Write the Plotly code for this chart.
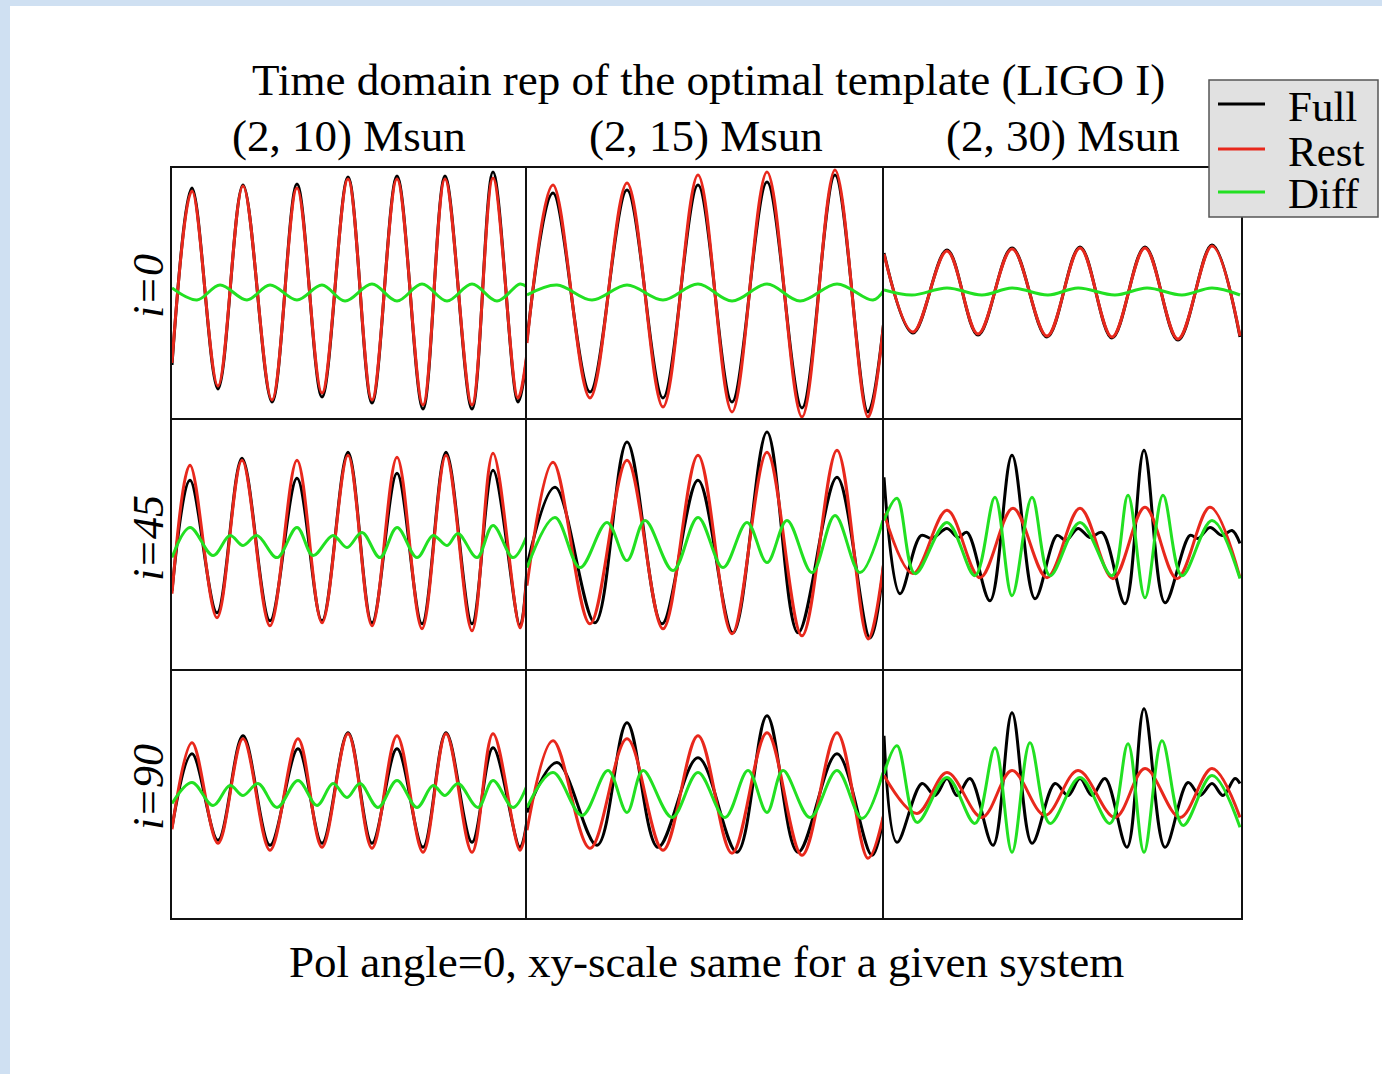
import plotly.graph_objects as go
from plotly.subplots import make_subplots

# ---------------- data (time in samples within window, strain in arbitrary units) -------------
ROW_LABELS = ["i=0", "i=45", "i=90"]
COL_LABELS = ["(2, 10) Msun", "(2, 15) Msun", "(2, 30) Msun"]
SERIES_NAMES = ["Full", "Rest", "Diff"]
WINDOW_LEN = [355, 357, 357]

# i=0, (2,10)
T_FULL_00 = [0, 20, 46, 71, 100, 125, 150, 176, 200, 225, 251, 273, 300, 321, 346, 355]
H_FULL_00 = [-72, 105, -96, 108, -109, 109, -104, 116, -110, 117, -116, 117, -116, 121, -109, -62]
T_REST_00 = [0, 20, 46, 71, 100, 125, 150, 176, 200, 225, 251, 273, 300, 321, 346, 355]
H_REST_00 = [-70, 102, -93, 107, -107, 105, -100, 114, -107, 114, -112, 114, -112, 115, -105, -60]
T_DIFF_00 = [0, 25, 48, 75, 98, 125, 150, 173, 200, 225, 250, 275, 300, 325, 348, 355]
H_DIFF_00 = [5, -7, 8, -7, 8, -7, 8, -8, 9, -8, 9, -8, 9, -8, 9, 6]

# i=0, (2,15)
T_FULL_01 = [0, 26, 63, 100, 136, 171, 205, 240, 275, 308, 341, 357]
H_FULL_01 = [-47, 100, -99, 103, -105, 108, -109, 111, -115, 118, -119, -27]
T_REST_01 = [0, 26, 63, 100, 136, 171, 205, 240, 275, 308, 341, 357]
H_REST_01 = [-50, 108, -105, 110, -114, 118, -119, 121, -124, 123, -124, -27]
T_DIFF_01 = [0, 30, 65, 100, 136, 171, 205, 240, 273, 310, 346, 357]
H_DIFF_01 = [-2, 8, -7, 8, -7, 9, -8, 9, -8, 9, -7, 3]

# i=0, (2,30)
T_FULL_02 = [0, 29, 63, 94, 128, 163, 196, 228, 261, 294, 328, 356]
H_FULL_02 = [40, -40, 43, -42, 45, -44, 46, -45, 46, -47, 48, -44]
T_REST_02 = [0, 29, 63, 94, 128, 163, 196, 228, 261, 294, 328, 356]
H_REST_02 = [39, -39, 42, -41, 44, -43, 45, -44, 45, -46, 47, -43]
T_DIFF_02 = [0, 28, 63, 98, 128, 164, 194, 231, 263, 298, 328, 356]
H_DIFF_02 = [3, -2, 5, -2, 5, -2, 5, -2, 5, -2, 5, -2]

# i=45, (2,10)
T_FULL_10 = [0, 18, 45, 70, 98, 125, 150, 176, 200, 225, 250, 274, 300, 321, 348, 355]
H_FULL_10 = [-47, 63, -69, 85, -77, 65, -77, 91, -79, 70, -80, 91, -80, 73, -82, -24]
T_REST_10 = [0, 18, 45, 70, 98, 125, 150, 176, 200, 225, 250, 274, 300, 321, 348, 355]
H_REST_10 = [-50, 78, -74, 83, -82, 83, -79, 88, -82, 86, -85, 88, -87, 90, -84, -28]
T_DIFF_10 = [0, 18, 41, 58, 71, 85, 105, 125, 141, 161, 175, 190, 208, 225, 245, 261, 275, 286, 305, 321, 341, 355]
H_DIFF_10 = [-14, 16, -12, 8, -2, 8, -14, 16, -12, 8, -4, 11, -14, 16, -14, 8, -2, 10, -14, 18, -14, 8]

# i=45, (2,15)
T_FULL_11 = [0, 28, 68, 100, 135, 171, 206, 240, 271, 310, 343, 357]
H_FULL_11 = [-22, 56, -79, 101, -80, 63, -89, 111, -89, 66, -94, -17]
T_REST_11 = [0, 26, 63, 100, 136, 171, 205, 240, 275, 310, 341, 357]
H_REST_11 = [-42, 81, -80, 83, -85, 88, -90, 91, -92, 93, -95, -17]
T_DIFF_11 = [0, 28, 53, 80, 100, 118, 146, 171, 196, 220, 240, 260, 285, 308, 333, 356]
H_DIFF_11 = [-24, 26, -24, 21, -17, 23, -27, 26, -24, 21, -19, 23, -29, 28, -29, 23]

# i=45, (2,30)
T_FULL_12 = [0, 16, 37, 48, 63, 74, 83, 106, 128, 151, 173, 182, 194, 206, 218, 241, 260, 281, 306, 314, 326, 338, 348, 356]
H_FULL_12 = [66, -50, 8, 5, 15, 6, 11, -57, 88, -55, 8, 3, 15, 6, 11, -60, 93, -59, 8, 5, 16, 8, 13, 0]
T_REST_12 = [0, 29, 63, 96, 129, 163, 196, 229, 261, 293, 326, 356]
H_REST_12 = [30, -30, 33, -34, 35, -34, 35, -35, 36, -35, 36, -34]
T_DIFF_12 = [0, 13, 31, 63, 91, 111, 128, 148, 166, 196, 228, 244, 261, 279, 298, 328, 356]
H_DIFF_12 = [23, 45, -30, 21, -32, 46, -52, 46, -32, 21, -32, 48, -54, 48, -32, 23, -35]

# i=90, (2,10)
T_FULL_20 = [0, 20, 46, 71, 98, 126, 150, 176, 200, 225, 251, 274, 300, 321, 348, 355]
H_FULL_20 = [-34, 40, -47, 58, -52, 45, -50, 61, -50, 45, -54, 61, -49, 46, -54, -27]
T_REST_20 = [0, 20, 46, 71, 98, 126, 150, 176, 200, 225, 251, 274, 300, 321, 348, 355]
H_REST_20 = [-36, 51, -50, 55, -57, 55, -54, 60, -55, 58, -59, 60, -59, 60, -57, -29]
T_DIFF_20 = [0, 20, 41, 58, 71, 86, 105, 126, 145, 161, 175, 188, 206, 225, 245, 261, 273, 286, 306, 321, 341, 355]
H_DIFF_20 = [-10, 11, -12, 8, -2, 10, -14, 13, -12, 10, -4, 10, -14, 13, -14, 8, -2, 10, -14, 13, -14, 8]

# i=90, (2,15)
T_FULL_21 = [0, 30, 70, 100, 131, 171, 210, 240, 271, 310, 345, 357]
H_FULL_21 = [-19, 31, -52, 71, -54, 36, -59, 78, -59, 40, -62, -20]
T_REST_21 = [0, 26, 63, 100, 136, 171, 205, 240, 275, 310, 341, 357]
H_REST_21 = [-37, 53, -55, 55, -57, 58, -60, 61, -62, 61, -65, -20]
T_DIFF_21 = [0, 26, 55, 81, 100, 116, 145, 171, 198, 221, 240, 256, 283, 310, 335, 356]
H_DIFF_21 = [-14, 21, -22, 23, -19, 23, -24, 21, -24, 23, -19, 23, -24, 23, -25, 21]

# i=90, (2,30)
T_FULL_22 = [0, 13, 38, 51, 63, 73, 86, 109, 128, 148, 171, 184, 196, 208, 221, 243, 260, 281, 304, 316, 328, 339, 351, 356]
H_FULL_22 = [58, -49, 10, -2, 15, -2, 15, -52, 81, -50, 10, -2, 15, -2, 15, -54, 85, -54, 11, -2, 10, -2, 15, 10]
T_REST_22 = [0, 33, 63, 98, 128, 161, 194, 231, 261, 296, 328, 356]
H_REST_22 = [18, -20, 21, -24, 23, -22, 23, -24, 25, -24, 25, -24]
T_DIFF_22 = [0, 13, 33, 63, 91, 111, 128, 146, 166, 196, 226, 244, 260, 278, 299, 328, 356]
H_DIFF_22 = [20, 48, -29, 16, -30, 46, -59, 51, -30, 16, -30, 50, -59, 53, -32, 18, -34]

PANELS = [
    [((T_FULL_00, H_FULL_00), (T_REST_00, H_REST_00), (T_DIFF_00, H_DIFF_00)),
     ((T_FULL_01, H_FULL_01), (T_REST_01, H_REST_01), (T_DIFF_01, H_DIFF_01)),
     ((T_FULL_02, H_FULL_02), (T_REST_02, H_REST_02), (T_DIFF_02, H_DIFF_02))],
    [((T_FULL_10, H_FULL_10), (T_REST_10, H_REST_10), (T_DIFF_10, H_DIFF_10)),
     ((T_FULL_11, H_FULL_11), (T_REST_11, H_REST_11), (T_DIFF_11, H_DIFF_11)),
     ((T_FULL_12, H_FULL_12), (T_REST_12, H_REST_12), (T_DIFF_12, H_DIFF_12))],
    [((T_FULL_20, H_FULL_20), (T_REST_20, H_REST_20), (T_DIFF_20, H_DIFF_20)),
     ((T_FULL_21, H_FULL_21), (T_REST_21, H_REST_21), (T_DIFF_21, H_DIFF_21)),
     ((T_FULL_22, H_FULL_22), (T_REST_22, H_REST_22), (T_DIFF_22, H_DIFF_22))],
]

# ---------------- style -------------
W, H = 1382, 1074
COLORS = ["#000000", "#e8281c", "#22e022"]
FONT = "Liberation Serif"
BG_BLUE = "#cfe0f2"

def px_x(v):
    return v / W

def px_y(v):
    return 1 - v / H

COL_EDGES = [172, 527, 884, 1241]
ROW_EDGES = [168, 418, 669, 918]

fig = make_subplots(rows=3, cols=3, horizontal_spacing=0, vertical_spacing=0)

for r in range(3):
    for c in range(3):
        for s in range(3):
            t, h = PANELS[r][c][s]
            fig.add_trace(
                go.Scatter(
                    x=t, y=h, mode="lines", name=SERIES_NAMES[s],
                    line=dict(color=COLORS[s], width=3, shape="spline", smoothing=1.0),
                    showlegend=False, hoverinfo="skip",
                ),
                row=r + 1, col=c + 1,
            )
        idx = r * 3 + c + 1
        xa = "xaxis" if idx == 1 else f"xaxis{idx}"
        ya = "yaxis" if idx == 1 else f"yaxis{idx}"
        axis_common = dict(showline=True, linecolor="#111111", linewidth=1.5,
                           showticklabels=False, ticks="", showgrid=False, zeroline=False)
        # each border drawn once: x-axes draw bottom (top row also top), y-axes draw left (last col also right)
        fig.layout[xa].update(domain=[px_x(COL_EDGES[c]), px_x(COL_EDGES[c + 1])],
                              range=[0, WINDOW_LEN[c]], mirror=(r == 0), side="bottom",
                              **axis_common)
        fig.layout[ya].update(domain=[px_y(ROW_EDGES[r + 1]), px_y(ROW_EDGES[r])],
                              range=[-125, 125], mirror=(c == 2), side="left",
                              **axis_common)

annotations = []
annotations.append(dict(text="Time domain rep of the optimal template (LIGO I)",
                        x=px_x(708), y=px_y(80), xref="paper", yref="paper",
                        xanchor="center", yanchor="middle", showarrow=False,
                        font=dict(family=FONT, size=45, color="black")))
for c in range(3):
    annotations.append(dict(text=COL_LABELS[c],
                            x=px_x((COL_EDGES[c] + COL_EDGES[c + 1]) / 2), y=px_y(136),
                            xref="paper", yref="paper", xanchor="center", yanchor="middle",
                            showarrow=False, font=dict(family=FONT, size=45, color="black")))
ROW_LABEL_Y = [286, 538, 787]
for r in range(3):
    annotations.append(dict(text="<i>" + ROW_LABELS[r] + "</i>",
                            x=px_x(148), y=px_y(ROW_LABEL_Y[r]), xref="paper", yref="paper",
                            xanchor="center", yanchor="middle", textangle=-90, showarrow=False,
                            font=dict(family=FONT, size=44, color="black")))
annotations.append(dict(text="Pol angle=0, xy-scale same for a given system",
                        x=px_x(706), y=px_y(962), xref="paper", yref="paper",
                        xanchor="center", yanchor="middle", showarrow=False,
                        font=dict(family=FONT, size=45, color="black")))

# legend (drawn as a box with samples)
LEG_Y = [104, 149, 192]
shapes = [
    dict(type="rect", xref="paper", yref="paper", x0=px_x(10), x1=1.01, y0=-0.01, y1=px_y(6),
         fillcolor="white", line=dict(width=0), layer="below"),
    dict(type="rect", xref="paper", yref="paper", x0=px_x(1209), x1=px_x(1378),
         y0=px_y(217), y1=px_y(80), fillcolor="#e1e1e1", line=dict(color="#555555", width=1.5),
         layer="above"),
]
for s in range(3):
    shapes.append(dict(type="line", xref="paper", yref="paper", x0=px_x(1218), x1=px_x(1265),
                       y0=px_y(LEG_Y[s]), y1=px_y(LEG_Y[s]),
                       line=dict(color=COLORS[s], width=3), layer="above"))
    annotations.append(dict(text=SERIES_NAMES[s], x=px_x(1286), y=px_y(LEG_Y[s] + 2),
                            xref="paper", yref="paper", xanchor="left", yanchor="middle",
                            showarrow=False, font=dict(family=FONT, size=43, color="black")))

fig.update_layout(
    width=W, height=H,
    margin=dict(l=0, r=0, t=0, b=0),
    paper_bgcolor=BG_BLUE,
    plot_bgcolor="white",
    showlegend=False,
    annotations=annotations,
    shapes=shapes,
)

fig.write_html("out.html", config={"displayModeBar": False},
               post_script="document.body.style.margin='0px';")
